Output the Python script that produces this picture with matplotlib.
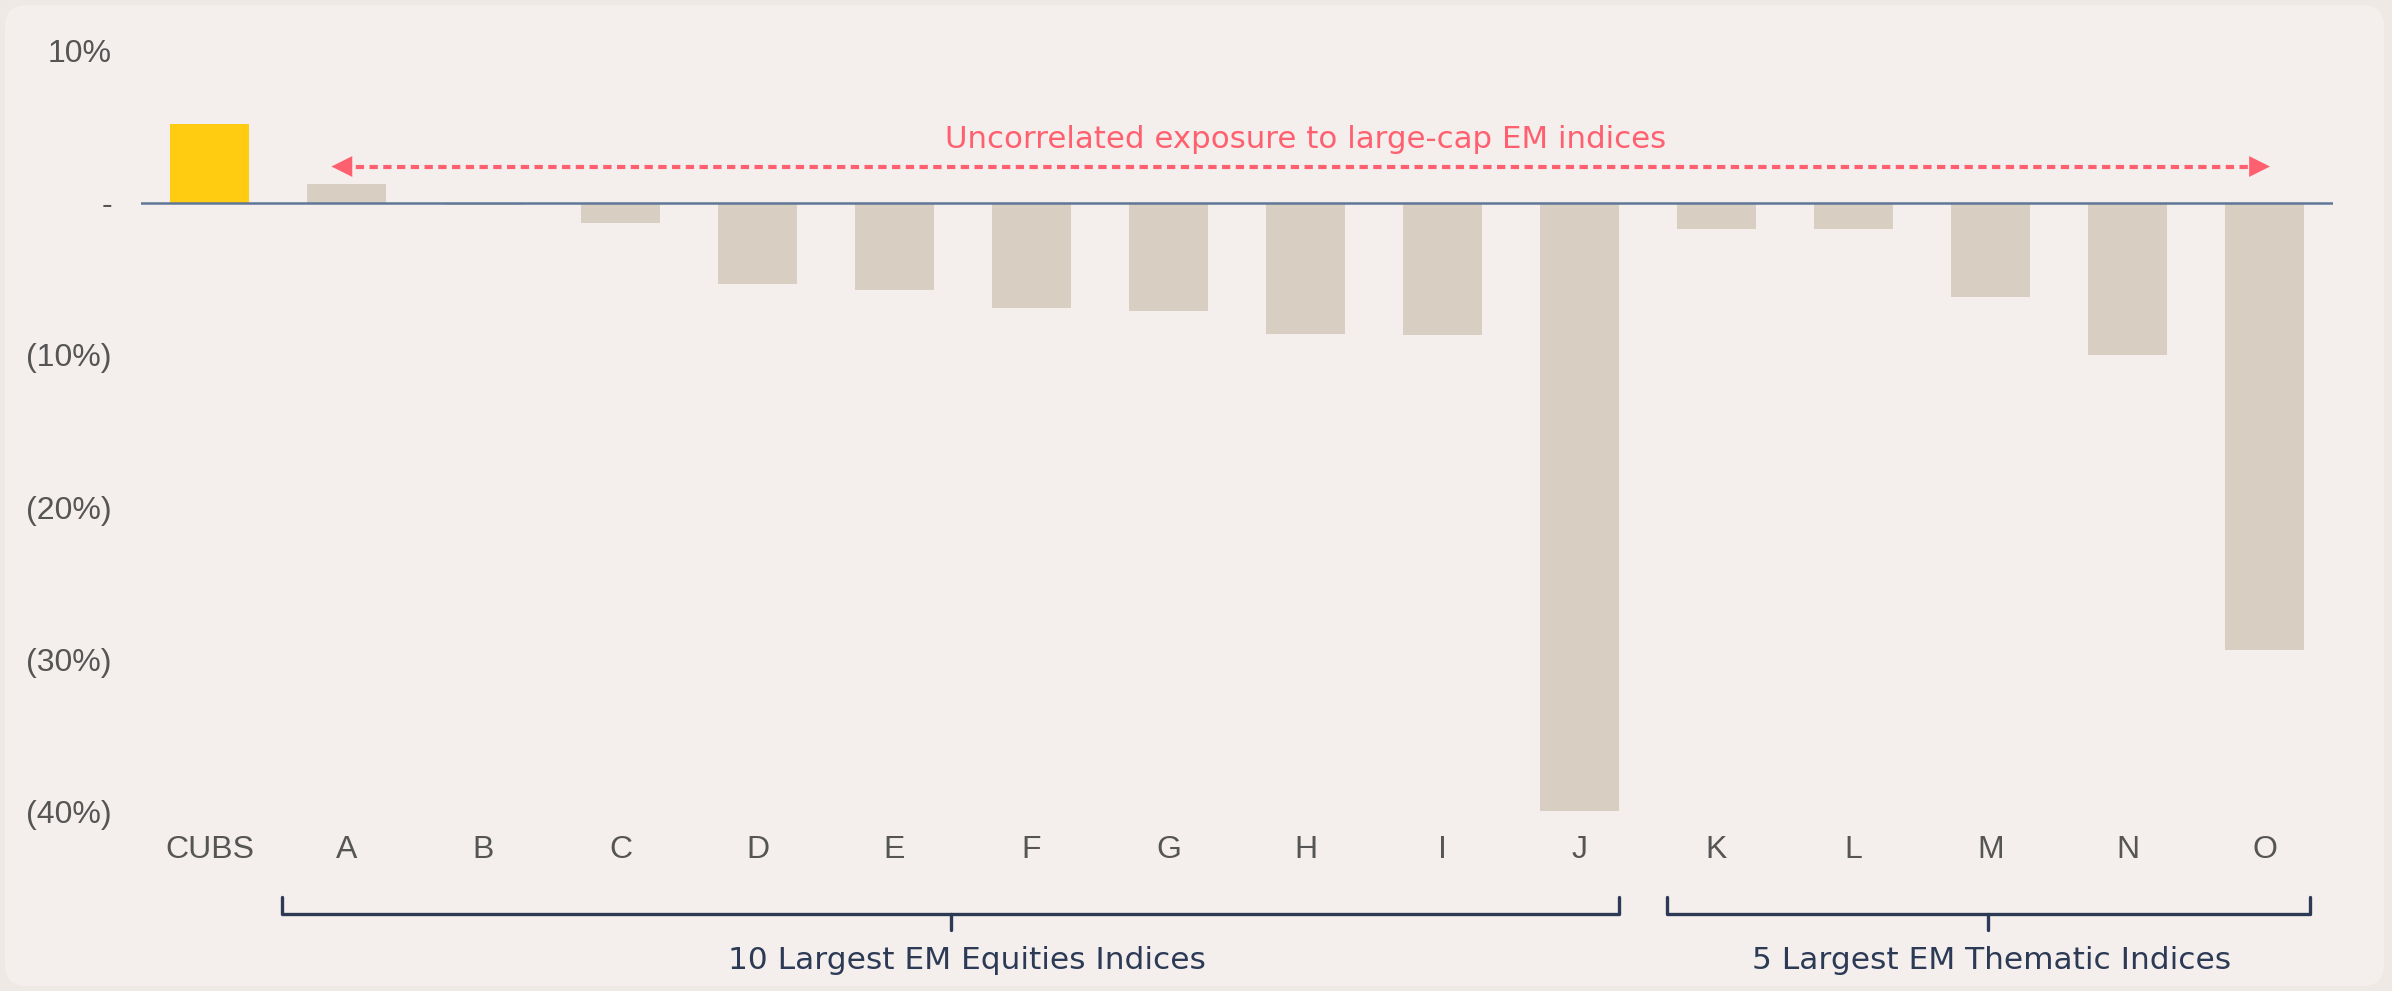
import matplotlib
matplotlib.use("Agg")
import matplotlib.pyplot as plt
from matplotlib.patches import FancyBboxPatch
import matplotlib.transforms as mtransforms

# ---- data ----
categories = ["CUBS", "A", "B", "C", "D", "E", "F", "G", "H", "I", "J", "K", "L", "M", "N", "O"]
values = [5.2, 1.25, -0.1, -1.3, -5.3, -5.7, -6.9, -7.1, -8.6, -8.7, -40.0, -1.7, -1.7, -6.2, -10.0, -29.4]
ytick_values = [10, 0, -10, -20, -30, -40]
ytick_labels = ["10%", "-", "(10%)", "(20%)", "(30%)", "(40%)"]
arrow_text = "Uncorrelated exposure to large-cap EM indices"
group_labels = ["10 Largest EM Equities Indices", "5 Largest EM Thematic Indices"]
group_spans = [(0.53, 10.29), (10.64, 15.33)]
group_label_x = [5.53, 13.01]

# ---- style ----
BG_OUT = "#EEE9E5"
BG_IN = "#F4EFEC"
GOLD = "#FFCC11"
TAUPE = "#D8CEC2"
ZERO = "#5F7797"
GRAY = "#555555"
NAVY = "#2C3A56"
CORAL = "#FF6070"

W, H = 2392, 991
fig = plt.figure(figsize=(W / 100, H / 100), dpi=100)
fig.patch.set_facecolor(BG_OUT)
panel = FancyBboxPatch((5 / W, 5 / H), 1 - 13 / W, 1 - 10 / H,
                       boxstyle="round,pad=0,rounding_size=0.009",
                       transform=fig.transFigure, facecolor=BG_IN, edgecolor="none",
                       zorder=-10, mutation_aspect=W / H)
fig.patches.append(panel)

ax = fig.add_axes([141 / W, 1 - 811 / H, (2333 - 141) / W, (811 - 51) / H])
ax.set_facecolor("none")

x = list(range(len(categories)))
colors = [GOLD] + [TAUPE] * (len(categories) - 1)
ax.bar(x, values, width=0.577, color=colors, zorder=2)
ax.axhline(0, color=ZERO, lw=1.8, zorder=3)

ax.set_xlim(-0.5, len(categories) - 0.5)
ax.set_ylim(-40, 10)
ax.set_yticks(ytick_values)
ax.set_yticklabels(ytick_labels)
ax.set_xticks(x)
ax.set_xticklabels(categories)
for s in ax.spines.values():
    s.set_visible(False)
ax.tick_params(axis="y", length=0, pad=21, labelsize=23, labelcolor=GRAY)
ax.tick_params(axis="x", length=0, pad=17, labelsize=23, labelcolor=GRAY)
for lab in ax.get_xticklabels() + ax.get_yticklabels():
    lab.set_fontfamily(["Liberation Sans", "DejaVu Sans"])

# ---- arrow annotation ----
ay = 2.4
x_left, x_right = 0.89, 15.04
ax.plot([x_left + 0.08, x_right - 0.08], [ay, ay], color=CORAL, lw=3.0,
        dashes=(2.0, 1.3), zorder=4, solid_capstyle="butt")
for tip, tail in [(x_left, x_left + 0.15), (x_right, x_right - 0.15)]:
    ax.annotate("", xy=(tip, ay), xytext=(tail, ay),
                arrowprops=dict(arrowstyle="-|>,head_length=1.0,head_width=0.5",
                                color=CORAL, lw=0, shrinkA=0, shrinkB=0,
                                mutation_scale=15), zorder=5)
ax.text(8.0, 3.6, arrow_text, color=CORAL, fontsize=22.2, ha="center", va="baseline",
        family=["DejaVu Sans"], zorder=5)

# ---- group brackets ----
trans = mtransforms.blended_transform_factory(ax.transData, fig.transFigure)
y_top = 1 - 897 / H
y_bar = 1 - 914 / H
y_tick = 1 - 930 / H
y_lab = 1 - 969 / H
for (a, b), lab, lx in zip(group_spans, group_labels, group_label_x):
    ax.plot([a, a, b, b], [y_top, y_bar, y_bar, y_top], transform=trans, color=NAVY,
            lw=2.4, clip_on=False, solid_joinstyle="round", solid_capstyle="round")
    m = (a + b) / 2
    ax.plot([m, m], [y_bar, y_tick], transform=trans, color=NAVY, lw=2.4,
            clip_on=False, solid_capstyle="round")
    ax.text(lx, y_lab, lab, transform=trans, color=NAVY, fontsize=22.5,
            ha="center", va="baseline", family=["DejaVu Sans"])

fig.savefig("out.png", dpi=100, facecolor=fig.get_facecolor())
